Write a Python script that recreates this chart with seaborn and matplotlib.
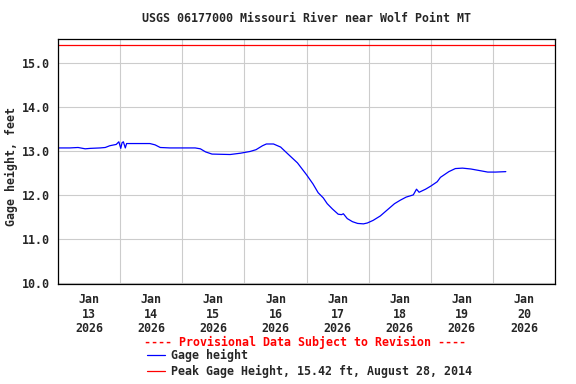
import pandas as pd
import matplotlib.pyplot as plt
import matplotlib.dates as mdates
from matplotlib.ticker import FixedLocator, FormatStrFormatter, NullFormatter
import seaborn as sns

# --- Data ---
start_time = "2026-01-13 00:00"
end_time = "2026-01-21 00:00"
hours_since_start = [0, 4.5, 7.75, 10.5, 12.5, 16.25, 18.25, 20, 22.5, 23.5,
                     24.25, 24.75, 25.25, 26, 26.5, 29.75, 35.5, 37.5, 39.5, 43.25,
                     53, 55, 57, 59.5, 66.5, 70.5, 74.25, 76.5, 79, 80.5,
                     83.25, 86, 88.5, 92.5, 96, 98.5, 100.5, 102.5, 104, 106,
                     108.25, 109.5, 110.25, 111.75, 113.75, 115.75, 118, 119.5, 121.75, 124.5,
                     127.25, 130, 132.25, 134.5, 137.25, 138.5, 139.5, 142, 144, 146.5,
                     147.75, 151, 153.5, 156.25, 159.5, 163.25, 166, 169, 173]
gage_height_ft = [13.07, 13.07, 13.08, 13.05, 13.06, 13.07, 13.08, 13.12, 13.15, 13.21,
                  13.06, 13.19, 13.21, 13.07, 13.17, 13.17, 13.17, 13.14, 13.08, 13.07,
                  13.07, 13.05, 12.98, 12.93, 12.92, 12.95, 12.99, 13.03, 13.12, 13.16,
                  13.16, 13.09, 12.95, 12.73, 12.46, 12.25, 12.05, 11.93, 11.80, 11.68,
                  11.56, 11.55, 11.57, 11.46, 11.39, 11.35, 11.34, 11.36, 11.42, 11.52,
                  11.66, 11.80, 11.88, 11.95, 12.00, 12.13, 12.06, 12.13, 12.20, 12.30,
                  12.40, 12.53, 12.60, 12.61, 12.59, 12.55, 12.52, 12.52, 12.53]
peak_height_ft = 15.42
peak_date = "August 28, 2014"
y_ticks = [10.0, 11.0, 12.0, 13.0, 14.0, 15.0]

df = pd.DataFrame({
    "time": pd.Timestamp(start_time) + pd.to_timedelta(hours_since_start, unit="h"),
    "gage_height": gage_height_ft,
})

# --- Style ---
sns.set_style("white")
plt.rcParams["font.family"] = ["DejaVu Sans Mono"]
plt.rcParams["font.weight"] = "bold"
plt.rcParams["font.size"] = 8.4

fig = plt.figure(figsize=(5.76, 3.84), dpi=100)
ax = fig.add_axes([58 / 576, 1 - 284 / 384, 497 / 576, (284 - 39.3) / 384])

sns.lineplot(data=df, x="time", y="gage_height", color="#0000ff", lw=0.9,
             ax=ax, label="Gage height")
ax.axhline(peak_height_ft, color="#ff0000", lw=0.9,
           label=f"Peak Gage Height, {peak_height_ft:.2f} ft, {peak_date}")

ax.set_xlim(pd.Timestamp(start_time), pd.Timestamp(end_time))
ax.set_ylim(9.97, 15.545)
ax.yaxis.set_major_locator(FixedLocator(y_ticks))
ax.yaxis.set_major_formatter(FormatStrFormatter("%.1f"))

ax.xaxis.set_major_locator(mdates.DayLocator())
ax.xaxis.set_major_formatter(NullFormatter())
ax.xaxis.set_minor_locator(mdates.HourLocator(byhour=12))
ax.xaxis.set_minor_formatter(mdates.DateFormatter("%b\n%d\n%Y"))

ax.tick_params(which="both", length=0)
ax.tick_params(axis="y", pad=5.8, labelsize=8.4)
ax.tick_params(axis="x", which="minor", pad=6.5, labelsize=8.4)
ax.grid(True, which="major", color="#cccccc", lw=0.8)
for s in ax.spines.values():
    s.set_color("black")
    s.set_linewidth(0.9)
ax.set_xlabel("")
ax.set_ylabel("")

handles = list(ax.lines)
ax.legend_.remove()

fig.text(306.5 / 576, 1 - 19 / 384, "USGS 06177000 Missouri River near Wolf Point MT",
         ha="center", va="center", fontsize=8.4, fontweight="bold")
fig.text(11 / 576, 1 - 167 / 384, "Gage height, feet", rotation=90,
         ha="center", va="center", fontsize=8.4, fontweight="bold")
fig.text(305.5 / 576, 1 - 342.3 / 384, "---- Provisional Data Subject to Revision ----",
         ha="center", va="center", color="#ff0000", fontsize=8.4, fontweight="bold")

fig.legend(handles=handles, labels=[h.get_label() for h in handles],
           loc="upper left", bbox_to_anchor=(147 / 576, 1 - 349 / 384),
           frameon=False, borderpad=0, borderaxespad=0, handlelength=1.55,
           handletextpad=0.5, labelspacing=0.25, fontsize=8.4)

fig.canvas.draw()
for lbl in ax.get_xticklabels(minor=True):
    lbl.set_linespacing(1.15)
    lbl.set_multialignment("center")

fig.savefig("out.png", dpi=100)
